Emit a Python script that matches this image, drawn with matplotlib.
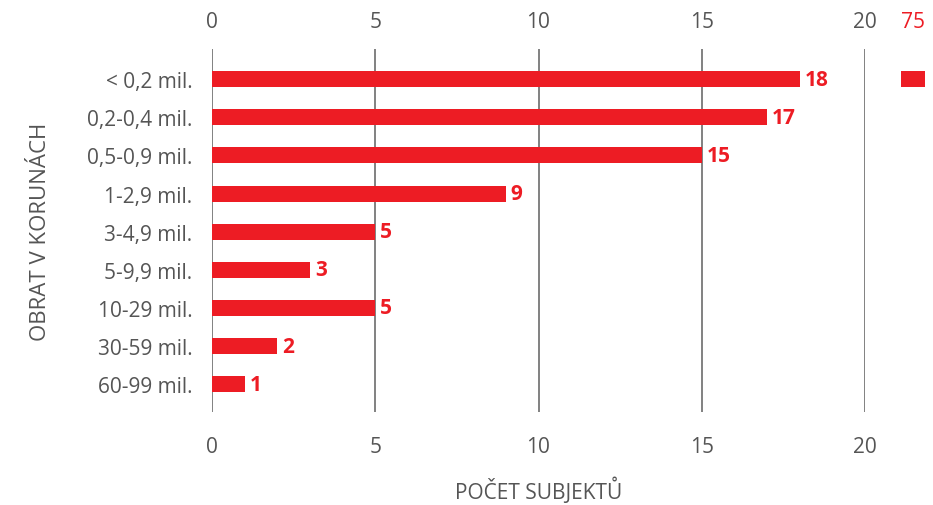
import matplotlib
matplotlib.use("Agg")
import matplotlib.pyplot as plt
import matplotlib.transforms as mtrans

# data
categories = ["< 0,2 mil.", "0,2-0,4 mil.", "0,5-0,9 mil.", "1-2,9 mil.", "3-4,9 mil.",
              "5-9,9 mil.", "10-29 mil.", "30-59 mil.", "60-99 mil."]
counts = [18, 17, 15, 9, 5, 3, 5, 2, 1]
xticks = [0, 5, 10, 15, 20]
# clipped panel on the right edge (only the top row shows there)
extra_tick = [75]
extra_vals = [76]

RED = "#ED1C24"
GREY = "#555555"
GRID = "#777777"
FS = 15

plt.rcParams["font.family"] = ["Open Sans", "DejaVu Sans"]

fig = plt.figure(figsize=(9.33, 5.06), dpi=100)
W, H = 933, 506

def px_axes(x0, x1, ytop, ybot):
    return fig.add_axes([x0 / W, 1 - ybot / H, (x1 - x0) / W, (ybot - ytop) / H])

ax = px_axes(212, 865, 50, 413)
ypos = list(range(len(categories)))
ax.barh(ypos, counts, height=0.42, color=RED, zorder=3)
for y, v in zip(ypos, counts):
    ax.text(v + 0.15, y, str(v), color=RED, fontsize=FS, fontweight="bold",
            va="center", ha="left", zorder=4)

ax.set_xlim(0, 20)
ax.set_ylim(8.73, -0.79)
ax.set_xticks(xticks)
ax.set_yticks(ypos)
ax.set_yticklabels(categories)
for s in ax.spines.values():
    s.set_visible(False)
ax.grid(axis="x", color=GRID, linewidth=1.3, zorder=0)
ax.tick_params(axis="x", length=0, labeltop=True, labelbottom=True,
               labelsize=FS, labelcolor=GREY)
ax.tick_params(axis="y", length=0, labelsize=FS, labelcolor=GREY, pad=14)
for t in ax.xaxis.get_major_ticks():
    t.set_pad(17)
    # top labels sit closer to the plot than the bottom ones
    t.label2.set_transform(t.label2.get_transform() +
                           mtrans.ScaledTranslation(0, -5 / 72, fig.dpi_scale_trans))
ax.set_xlabel("POČET SUBJEKTŮ", fontsize=FS, color=GREY, labelpad=14)
ax.set_ylabel("OBRAT V KORUNÁCH", fontsize=16, color=GREY, labelpad=26)

# right clipped panel
ax2 = px_axes(901, 925, 50, 413)
ax2.barh(ypos[:1], extra_vals, height=0.42, color=RED)
ax2.set_xlim(74.5, 75.5)
ax2.set_ylim(8.73, -0.79)
ax2.set_xticks(extra_tick)
ax2.set_yticks([])
for s in ax2.spines.values():
    s.set_visible(False)
ax2.tick_params(axis="x", length=0, labeltop=True, labelbottom=False,
                labelsize=FS, labelcolor=RED)
for t in ax2.xaxis.get_major_ticks():
    t.set_pad(12)

fig.savefig("out.png", dpi=100)
